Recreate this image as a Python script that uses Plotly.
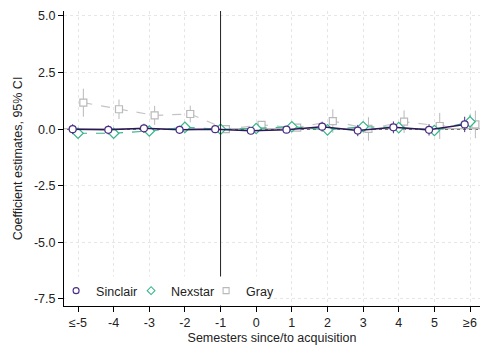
import plotly.graph_objects as go

# Data
x_labels = ["≤-5", "-4", "-3", "-2", "-1", "0", "1", "2", "3", "4", "5", "≥6"]
periods = [-5, -4, -3, -2, -1, 0, 1, 2, 3, 4, 5, 6]

sinclair = [0.00, -0.03, 0.04, -0.03, 0.00, -0.07, -0.02, 0.11, -0.06, 0.08, -0.03, 0.21]
sinclair_ci = [0.22, 0.20, 0.20, 0.18, 0.00, 0.15, 0.15, 0.22, 0.25, 0.26, 0.25, 0.34]

nexstar = [-0.18, -0.18, -0.08, 0.08, 0.00, 0.03, 0.11, -0.03, 0.11, 0.07, -0.06, 0.33]
nexstar_ci = [0.12, 0.10, 0.10, 0.10, 0.00, 0.12, 0.12, 0.12, 0.15, 0.15, 0.15, 0.31]

gray = [1.17, 0.88, 0.61, 0.67, 0.00, 0.19, 0.07, 0.36, 0.01, 0.33, 0.14, 0.21]
gray_ci = [0.62, 0.43, 0.42, 0.37, 0.00, 0.12, 0.15, 0.52, 0.52, 0.50, 0.58, 0.61]

y_ticks = [5.0, 2.5, 0.0, -2.5, -5.0, -7.5]
y_ticklabels = ["5.0", "2.5", "0.0", "-2.5", "-5.0", "-7.5"]

names = ["Sinclair", "Nexstar", "Gray"]
colors = ["#4b2d86", "#35b58a", "#b9b9b9"]
line_colors = ["#2a1858", "#35b58a", "#c4c4c4"]
symbols = ["circle-open", "diamond-open", "square-open"]
dashes = ["solid", "dash", "dash"]
offsets = [-0.15, 0.0, 0.15]
values = [sinclair, nexstar, gray]
cis = [sinclair_ci, nexstar_ci, gray_ci]

FS = 12.5

fig = go.Figure()

# draw Gray first, then Nexstar, then Sinclair
for i in [2, 1, 0]:
    xs = [p + offsets[i] for p in periods]
    fig.add_trace(go.Scatter(
        x=xs, y=values[i], mode="lines+markers", name=names[i], showlegend=False,
        line=dict(color=line_colors[i], width=1.5 if i == 0 else 1.2, dash=dashes[i]),
        marker=dict(symbol=symbols[i].replace("-open", ""), size=7 if i != 1 else 8,
                    color="white", line=dict(color=colors[i], width=1.2)),
        error_y=dict(type="data", array=cis[i], visible=True, color=colors[i],
                     thickness=1, width=0),
    ))

# legend entries (markers only)
for i in range(3):
    fig.add_trace(go.Scatter(
        x=[None], y=[None], mode="markers", name=names[i],
        marker=dict(symbol=symbols[i], size=6, color=colors[i], line=dict(width=1.1)),
    ))

# reference lines
fig.add_shape(type="line", xref="paper", x0=0, x1=1, yref="y", y0=0, y1=0,
              line=dict(color="#333333", width=1), layer="below")
fig.add_shape(type="line", xref="x", x0=-1, x1=-1, yref="paper", y0=0, y1=1,
              line=dict(color="#222222", width=1), layer="above")
# legend background box
fig.add_shape(type="rect", xref="paper", x0=0.003, x1=0.49, yref="paper", y0=0.002, y1=0.1,
              line=dict(width=0), fillcolor="white", layer="above")

fig.update_layout(
    width=480, height=345,
    margin=dict(l=64, r=0, t=11, b=39),
    paper_bgcolor="white", plot_bgcolor="white",
    font=dict(family="Liberation Sans, Arial, sans-serif", size=FS, color="#222222"),
    showlegend=True,
    legend=dict(orientation="h", x=-0.019, y=0.0, xanchor="left", yanchor="bottom",
                bgcolor="rgba(0,0,0,0)", borderwidth=0, font=dict(size=FS),
                itemwidth=30, entrywidth=30, entrywidthmode="pixels",
                tracegroupgap=0),
    xaxis=dict(range=[-5.393, 6.28], tickmode="array", tickvals=periods, ticktext=x_labels,
               showgrid=True, gridcolor="#e6e6e6", griddash="dot", gridwidth=1,
               showline=True, linecolor="black", linewidth=1,
               ticks="outside", ticklen=5, tickcolor="black", zeroline=False,
               title=dict(text="Semesters since/to acquisition", standoff=4,
                          font=dict(size=FS))),
    yaxis=dict(range=[-7.81, 5.22], tickmode="array", tickvals=y_ticks, ticktext=y_ticklabels,
               showgrid=True, gridcolor="#e6e6e6", griddash="dot", gridwidth=1,
               showline=True, linecolor="black", linewidth=1,
               ticks="outside", ticklen=5, tickcolor="black", zeroline=False,
               title=dict(text="Coefficient estimates, 95% CI", standoff=8,
                          font=dict(size=FS))),
)

fig.write_html("out.html")
